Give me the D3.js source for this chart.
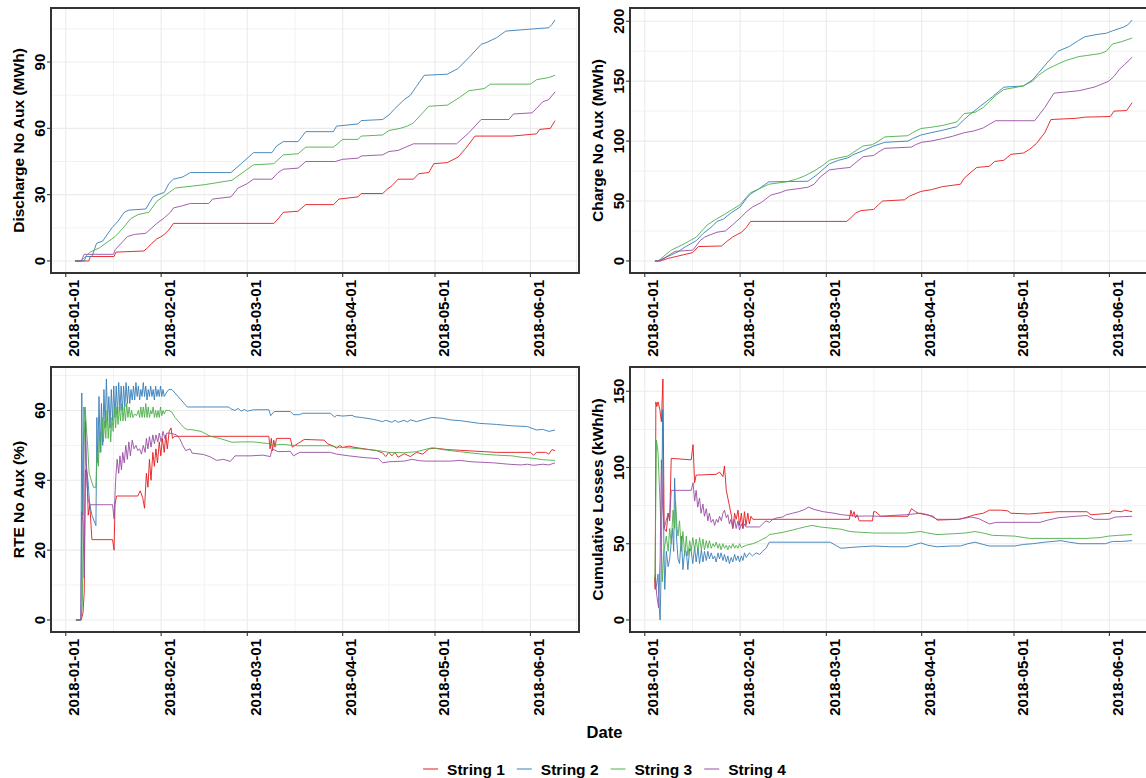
<!DOCTYPE html>
<html>
<head>
<meta charset="utf-8">
<script src="https://cdn.jsdelivr.net/npm/d3@7"></script>
<style>
body { margin: 0; background: #fff; }
text { font-family: "Liberation Sans", Arial, sans-serif; font-weight: bold; fill: #000; }
</style>
</head>
<body>
<svg id="chart" width="1146" height="778"></svg>
<script>
// values: [day since 2018-01-01, value]
var dischargeS1 = [[3,0],[7.5,0],[8,2],[15.7,2],[16.3,4],[25.4,4.5],[26.6,6],[28,8],[29.6,10],[31,11],[32,12],[33.5,14],[35,17],[67.6,17],[69,19],[70.7,22],[75.5,22.5],[78,25.5],[87,25.5],[88.8,28],[95,29],[96,30.5],[103,30.5],[104.5,32.5],[106,34],[108,37],[113,37],[114.7,39.5],[118,40],[119.6,44],[124,44.5],[127.5,47],[130,51],[133,56.5],[145,56.5],[153,57.5],[154,59.5],[157.5,60],[159,63.5]];
var dischargeS2 = [[3,0],[6,0],[6.6,2],[8.5,2],[10,8],[12,9],[15,15],[17,18],[19,22],[20.5,23],[26,23.5],[28.4,29],[30,30],[32,31],[33.5,35],[35,37],[38,38],[40.5,40],[53.7,40],[57,44],[61,49],[67,49],[68.5,52],[70.7,54],[75.5,54],[78,58.5],[87,58.5],[88,61],[95,62],[96,63.5],[103,64],[105,66],[107,69],[110,73],[112,75],[114,79],[116.5,84],[124,84.5],[127.4,87],[131,92],[135,98],[137,99],[140,101],[143,104],[152,105],[157,105.5],[158,107],[159,109]];
var dischargeS3 = [[3,0],[5,0],[7.9,4],[11,6],[14,9],[16,11],[18.7,15],[21,19],[23.5,21],[27,22],[29.6,27],[32.6,30],[35.6,33],[45,34.5],[54,36.5],[58.5,41],[61,43.5],[67.6,44],[70.7,48],[75.5,48.5],[78,51.5],[87,51.5],[90,55],[95,55],[96,56.5],[103,57],[105,59],[108.7,60],[111,61],[113,62.5],[116,67],[118,70],[124,70.5],[128,74],[131,77],[136,78],[138,80],[151,80],[153,82],[157,83],[159,84]];
var dischargeS4 = [[3,0],[5,0],[6,3],[15.5,3],[16,5],[18.7,9],[20,11],[22.3,12],[26,12.5],[28,15],[29.6,17],[32,19.5],[34,22],[35,24],[38,25],[40.5,26],[46.5,26],[47.7,28],[53.7,29],[56,33],[59,35],[61,37],[67,37],[69,40],[70.7,41.5],[75.5,42],[78,45],[87.6,45],[90,46],[95,46.5],[96,47.5],[103,48],[105,49.5],[108,50],[113,53],[127,53],[131,58],[135,64],[144,64],[145.5,66.5],[151.5,67],[153,69],[155,72],[157,73],[159,76.5]];

var chargeS1 = [[3.3,0],[5,0],[7.4,2],[15.6,7],[17.4,12],[25,12.5],[26.5,16],[28.6,20],[30,22],[31.5,24],[33,28],[34.4,33],[65.6,33],[67,36],[68.5,40],[70.3,42],[74.4,43],[76,47],[77.3,50],[84.4,51],[86,54],[89.7,58],[93.2,59.5],[96.7,62],[102.6,64],[103.8,69],[106,74],[107.9,78],[112,79],[113.7,83],[116.7,84],[119,89],[123,90],[125,93],[127.3,98],[130,107],[132,118],[140.2,119],[143,120],[151.3,120.5],[152.5,125],[156.6,125.5],[158.4,132]];
var chargeS2 = [[3.3,0],[4,0],[5,1],[8.6,5],[11,8],[13.3,12],[16.8,17],[19,23],[21.5,28],[23.5,33],[25.6,35],[28,40],[31,45],[33,52],[34.4,56],[37,60],[40.3,66],[53,66.5],[56,72],[60,81],[63,84],[66,86],[68,89],[71,92],[74,95.5],[78,99],[85.5,100],[87,102],[89.7,105],[93,107],[96.7,109],[101.4,112],[103.8,118],[106,123],[108.5,128],[111,133],[113,137],[116.7,145],[123,146],[126,151],[128,157],[131,166],[134.3,175],[138,179],[141,184],[143,187],[147,189],[150,190],[152,192],[155.5,195],[157,197],[158.4,201]];
var chargeS3 = [[3.3,0],[4.5,0],[6.2,4],[8.6,9],[11,12],[13.3,15],[16.8,20],[18.5,25],[20.3,30],[23.3,35],[26,39],[28.5,43],[31,47],[33,53],[34.4,57],[37,60],[40.3,64],[46,66],[49,68],[52,71],[55,75],[58,80],[60,84],[63,86],[66,87.5],[68,91],[71,96],[74,97],[76,100],[78,103.5],[85.5,104.5],[87,107],[89.7,110.5],[93,111.5],[96.7,113],[101.4,116],[103.8,123],[107.3,124],[110,128],[112,133],[114,138],[116.7,143],[123,146],[126,150],[128,155],[130.8,160],[134,164],[136.6,167],[141,170.5],[144,171.5],[148,173],[150,175],[152,181],[155,183],[158.4,186]];
var chargeS4 = [[3.3,0],[5,0],[7.4,4],[9.8,8],[15.6,9],[18,17],[19.5,20],[21.5,22],[23.5,24],[26.2,25],[28.5,30],[31.5,37],[33,41],[35,45],[38,49],[41,55],[44,57],[46,59],[49,60],[53,61.5],[55,64],[57,70],[60,76],[63,77],[66.7,78],[69,83],[71,87],[74.4,88],[76,91],[78,94],[86.7,95],[88,97],[90,99],[93,100],[96.7,102],[100,104],[103.8,107],[107,108.5],[110,111],[112,114],[114,117],[126.7,117],[130,128],[133,140],[141,142],[146,145],[148,147],[150.8,150],[152.5,154],[154.3,160],[156,164],[158.4,170]];

var rteS1 = [[3.3,0],[5,0],[5.6,2],[6,8],[6.4,43],[6.9,42],[7.3,30],[7.8,33],[8.5,23],[15.2,23],[15.7,20],[16,33],[16.5,35.5],[23.4,35.5],[24.2,37],[25,35],[25.6,32],[26.2,42],[26.7,38],[27.2,46],[27.7,40],[28.3,48],[28.8,44],[29.3,49],[29.8,45],[30.4,51],[30.9,47],[31.4,52],[32,48],[32.5,53],[33,49],[33.6,54],[34.2,55],[34.7,52],[35.3,52.6],[66,52.6],[66.4,49],[66.8,52],[67.2,48.5],[67.6,51.5],[68,49.5],[68.5,52],[73,52],[73.6,49.5],[74.5,50],[77.5,51.7],[84,51.5],[85,50.5],[87,49.8],[88,49.2],[89,50],[90,49.4],[92,49.8],[94,49.4],[101,48.5],[103,47.8],[104,46.8],[105,48],[106,47],[107,48],[108,46.6],[110,47.6],[112,46.8],[114,48],[116,47.5],[118,49],[120,49.2],[124,48.8],[128,48.6],[132,48.4],[136,48.2],[140,48],[151,48],[152,47.2],[153,48],[156,48],[157,47.5],[158,48.8],[159,48.5]];
var rteS2 = [[3.3,0],[4.9,0],[5.2,65],[5.5,30],[5.9,61],[6.3,58],[6.6,45],[7.2,40],[7.8,33],[8.5,30],[9.8,27],[10.1,58],[10.4,45],[10.8,64],[11.2,48],[11.6,62],[12,50],[12.4,66],[12.8,55],[13.2,69],[13.6,57],[14,64],[14.4,55],[14.8,66],[15.2,57],[15.6,67],[16,58],[16.4,67],[16.8,59],[17.2,68],[17.6,60],[18,67],[18.4,60],[18.8,67],[19.2,61],[19.6,68],[20,62],[20.4,67],[20.8,62],[21.2,66],[21.6,63],[22,67],[22.4,63],[22.8,68],[23.2,64],[23.6,67],[24,63],[24.4,66],[24.8,64],[25.2,68],[25.6,64],[26,67],[26.4,63],[26.8,66],[27.2,64],[27.6,67],[28,64],[28.4,66],[28.8,63],[29.2,67],[29.6,64],[30,66],[30.4,64],[30.8,67],[31.2,64],[31.6,66],[32,64],[32.6,65],[33.5,66],[34.5,66],[35.5,65],[36.5,64],[37.5,63],[38.5,62],[39.5,61],[41,61],[53,61],[53.5,60.5],[55,60],[56,60.6],[57,59.8],[58,60.3],[59,59.8],[61,60.2],[66,60.2],[66.6,58.5],[67.5,59.5],[68,59.7],[73,59.7],[74,58.8],[76,58.8],[77,59.2],[86,59.2],[87.4,58.1],[88,58.6],[90,58.4],[93,58.6],[94,58.2],[96,58],[99.7,57.5],[103,56.8],[104,57.2],[106,56.6],[107,57.2],[108,56.6],[110,57.2],[111,56.7],[112,57.3],[114,56.8],[116,57.3],[119,58],[122,57.8],[125,57.3],[128,57.1],[134.5,56.3],[140,56],[145,55.6],[150,55.4],[153,54.4],[155,54.6],[157,54],[159,54.4]];
var rteS3 = [[3.3,0],[5,0],[5.4,5],[5.8,45],[6.3,61],[6.7,55],[7.1,50],[7.6,42],[8.3,40],[9,38],[9.8,38],[10.2,48],[10.6,44],[11,54],[11.4,48],[11.8,58],[12.2,51],[12.6,57],[13,52],[13.4,60],[13.8,52],[14.2,59],[14.6,51],[15,58],[15.4,54],[15.8,61],[16.2,55],[16.6,61],[17,56],[17.4,61],[17.8,57],[18.2,62],[18.6,57],[19,61],[19.4,57],[19.8,62],[20.2,58],[20.6,61],[21,58],[21.4,60],[21.8,58],[22.4,59],[23,58.5],[23.6,60],[24,58],[24.4,61],[24.8,58],[25.2,61],[25.6,58],[26,62],[26.4,58],[26.8,61],[27.2,58],[27.6,60],[28,59],[28.4,61],[28.8,58],[29.2,60],[29.6,58],[30,60],[30.4,58],[30.8,61],[31.2,58.5],[31.6,60],[32,59],[32.5,60],[33.5,60],[34.5,59.5],[35.5,58],[36.5,57],[37.5,56],[38.5,55],[39.5,54.5],[41,54.5],[44,54],[47,52.6],[50,52],[54,50.9],[57,51],[61,51],[66,50.5],[67,50],[70,50.3],[75.4,49.9],[86,49.9],[88,49.5],[92,49.3],[96,49],[101.6,48.5],[105,48],[110,47.9],[114,48.2],[119,49.3],[124,48.6],[128,48.2],[132,47.8],[136.7,47.4],[140,47.2],[145,47],[148,46.6],[152,46.3],[155,45.9],[159,45.7]];
var rteS4 = [[3.3,0],[4.9,0],[5.2,31],[5.6,28],[6,12],[6.4,57],[6.8,40],[7.3,34],[8,33],[15.2,33],[15.7,29],[16.2,40],[16.7,46],[17.2,42],[17.6,47],[18.1,43],[18.5,48],[19,45],[19.5,50],[20,46],[20.5,51],[21,47],[21.6,51.5],[22.2,49],[22.8,50],[23.4,48.5],[24,49],[24.6,47.5],[25.2,50],[25.8,48],[26.2,52],[26.7,49],[27.2,52.5],[27.7,49.5],[28.3,53],[28.8,50.5],[29.3,53],[29.9,51],[30.4,53.5],[31,51],[31.6,54],[32.2,52],[32.8,53.5],[34,53.5],[36,53],[37,52],[38,50],[39,48.5],[40.4,49],[41,47.8],[44.7,47.4],[47,46.7],[49,45.7],[51.3,46],[53.5,45.4],[55,47],[60,47],[64,47.2],[66.5,46.8],[67,49],[69,48.2],[73,48.3],[74,47],[76,48],[86,48],[88,47.5],[92,47],[97,46.5],[101.6,46.2],[103,45],[105,45.3],[110,45.5],[112.5,46],[115,45.6],[117,45.5],[125,45.5],[128,45.7],[132,45.3],[139,45],[144,44.6],[148,44.4],[150,44.6],[152,44.3],[155,44.6],[157,44.4],[159,45]];

var lossS1 = [[3.2,28],[3.4,20],[3.6,143],[3.9,140],[4.3,143],[4.9,138],[5.4,130],[5.9,158],[6.3,60],[7,58],[7.6,70],[8.1,65],[8.6,106],[15.1,105],[15.7,115],[16.2,90],[16.7,95],[23.2,95.5],[24.3,97],[25.4,94],[25.9,101],[26.5,85],[27.5,75],[28.2,68],[28.6,60],[29.2,70],[29.7,66],[30.3,72],[30.8,62],[31.4,70],[31.9,60],[32.4,71],[32.9,62],[33.5,70],[34,63],[34.5,68],[35.1,66],[66.5,66],[67,72],[67.5,68],[68,71],[68.5,67],[69,69],[69.7,65],[74,65],[74.4,71],[75,71],[76.7,68],[85.5,68],[86.7,73],[88,71],[89,70],[93.8,68],[95,65.5],[102,66],[104,67],[107.3,69],[110,70],[112,72],[116,72],[118,71.5],[119,70],[125,69.5],[128,70],[134.3,71],[143.7,71],[145,69],[151.4,70],[151.8,71.5],[155,71],[156,72],[158.4,71]];
var lossS2 = [[3.2,22],[3.8,22],[4.3,30],[4.7,8],[5,0],[5.4,40],[5.8,138],[6.2,50],[6.5,20],[7,45],[7.6,35],[8.1,40],[9,60],[9.4,45],[9.7,93],[10.3,55],[10.8,40],[11.3,37],[11.9,55],[12.4,33],[13,46],[13.5,45],[14,33],[14.6,47],[15.1,45],[15.6,37],[16.2,48],[16.7,38],[17.3,47],[17.8,37],[18.4,46],[18.9,38],[19.4,45],[20,39],[20.5,45],[21,40],[21.6,44],[22.2,40],[22.7,42],[23.2,38],[23.8,44],[24.3,40],[24.8,44],[25.4,39],[25.9,43],[26.5,38],[27,42],[27.5,37],[28.1,41],[28.6,38],[29.2,43],[29.7,39],[30.3,42],[30.8,38],[31.4,42],[31.9,39],[32.4,44],[33,41],[34,44],[35,42],[36.2,44],[37.3,43],[38.3,45],[39.4,47],[40.5,51],[60.3,51],[62,49],[63.8,47],[66.7,47.5],[70,48],[74.4,48.5],[80,48],[85,48],[87,49],[89.7,50.5],[92,49],[95,48],[100,48.5],[102.6,48.5],[105,50],[107.3,51],[110,49.5],[112,48.5],[120.2,48.5],[123,49.5],[126,50],[130,51],[135.3,52],[138,51],[141.4,50],[149.7,50],[152,51.5],[155,51.5],[158.4,52]];
var lossS3 = [[3.3,25],[3.8,118],[4.3,110],[4.9,80],[5.3,60],[5.7,25],[6.2,45],[7,55],[7.6,45],[8.1,60],[8.6,50],[9.2,72],[9.7,60],[10,78],[10.5,60],[10.8,55],[11.3,65],[11.9,45],[12.4,58],[13,42],[13.5,55],[14,42],[14.6,52],[15.1,45],[15.6,54],[16.2,46],[16.7,53],[17.3,45],[17.8,54],[18.4,46],[18.9,53],[19.4,46],[20,52],[20.5,47],[21,52],[21.6,47],[22.2,50],[22.7,48],[23.2,51],[23.8,47],[24.3,50],[24.8,46],[25.4,50],[25.9,47],[26.5,49],[27,46],[27.5,49],[28.1,47],[28.6,50],[29.2,47],[29.7,49],[30.3,47],[30.8,50],[31.4,47.5],[31.9,48],[33,49],[35.1,50],[37,51.5],[38.3,53],[39.4,54],[40.5,56],[42,56.5],[45,57.5],[48,59],[50,60],[52,61],[54.4,62],[57,61],[61.5,60],[63.8,59.5],[66.7,58],[70,57.5],[74.4,57],[80,57],[85,57],[89.7,58],[92,57],[95,56],[100,56.5],[104,57],[107.3,58],[110,57],[113,55.5],[120.2,55],[125,53.5],[143.7,53.5],[148,54],[150.8,55],[154,55.5],[158.4,56]];
var lossS4 = [[3.4,30],[3.9,16],[4.5,8],[5,40],[5.4,105],[5.8,75],[6.3,60],[6.8,64],[7.6,70],[8.1,66],[8.6,85],[15.1,85],[15.7,90],[16.2,78],[16.7,85],[17.2,74],[17.8,80],[18.3,70],[18.9,76],[19.4,68],[20,73],[20.5,65],[21,70],[21.6,64],[22.2,66],[22.7,62],[23.3,66],[23.8,64],[24.3,68],[24.9,65],[25.4,70],[25.9,72],[26.5,67],[27,69],[27.5,63],[28,66],[28.6,60],[29.2,66],[29.7,60],[30.3,65],[30.8,59],[31.4,63],[31.9,60],[32.4,63],[32.9,61],[34,61],[37.3,61],[38.3,63],[39.4,65],[40.5,64],[41.6,66],[43,67],[44.8,67.5],[46,69],[48,70],[50,71],[52,72.5],[53.2,74],[55,72.5],[58,71],[61.5,70],[64,69],[66.7,68.5],[68.5,68],[72,68.2],[76.7,68],[80,68.5],[85,69],[89.7,70],[92,69],[95,66],[102,66],[106,67.5],[108.5,66.5],[110,65],[112,63],[114.3,64],[128.4,64],[131,65.5],[134.3,67],[140,68],[143.7,68.5],[146,66],[150.8,66],[153,67.5],[156,67.8],[158.4,68]];

var seriesNames = ["String 1", "String 2", "String 3", "String 4"];
var seriesColors = ["#E41A1C", "#377EB8", "#4DAF4A", "#984EA3"];
var dateTicks = ["2018-01-01", "2018-02-01", "2018-03-01", "2018-04-01", "2018-05-01", "2018-06-01"];
var dischargeTicks = [0, 30, 60, 90];
var chargeTicks = [0, 50, 100, 150, 200];
var rteTicks = [0, 20, 40, 60];
var lossTicks = [0, 50, 100, 150];

var W = 1146, H = 778;
var svg = d3.select("#chart");
var day0 = Date.UTC(2018, 0, 1);
function toDate(d) { return new Date(day0 + d * 864e5); }
var parseDate = d3.utcParse("%Y-%m-%d");

var panelW = 528, panelH = 265;
var panels = [
    {left: 51, top: 8, title: "Discharge No Aux (MWh)", series: [dischargeS1, dischargeS2, dischargeS3, dischargeS4], ticks: dischargeTicks},
    {left: 630, top: 8, title: "Charge No Aux (MWh)", series: [chargeS1, chargeS2, chargeS3, chargeS4], ticks: chargeTicks},
    {left: 51, top: 367, title: "RTE No Aux (%)", series: [rteS1, rteS2, rteS3, rteS4], ticks: rteTicks},
    {left: 630, top: 367, title: "Cumulative Losses (kWh/h)", series: [lossS1, lossS2, lossS3, lossS4], ticks: lossTicks}
];

// shared x range over all panels, ggplot style 5% expansion
var allDays = [];
panels.forEach(function(p) { p.series.forEach(function(s) { s.forEach(function(d) { allDays.push(d[0]); }); }); });
var dMin = d3.min(allDays), dMax = d3.max(allDays), dPad = (dMax - dMin) * 0.05;
var xDomain = [toDate(dMin - dPad), toDate(dMax + dPad)];
var tickDates = dateTicks.map(parseDate);
var minorDates = [];
for (var i = 0; i < tickDates.length; i++) {
    var next = i < tickDates.length - 1 ? tickDates[i + 1] : d3.utcMonth.offset(tickDates[i], 1);
    minorDates.push(new Date((tickDates[i].getTime() + next.getTime()) / 2));
}

panels.forEach(function(p, pi) {
    var x = d3.scaleUtc().domain(xDomain).range([p.left, p.left + panelW]);
    var vals = [];
    p.series.forEach(function(s) { s.forEach(function(d) { vals.push(d[1]); }); });
    var vMin = d3.min(vals), vMax = d3.max(vals), vPad = (vMax - vMin) * 0.05;
    var y = d3.scaleLinear().domain([vMin - vPad, vMax + vPad]).range([p.top + panelH, p.top]);

    var g = svg.append("g").attr("class", "panel");
    var clipId = "clip" + pi;
    g.append("clipPath").attr("id", clipId).append("rect")
        .attr("x", p.left).attr("y", p.top).attr("width", panelW).attr("height", panelH);

    var grid = g.append("g").attr("clip-path", "url(#" + clipId + ")");
    // minor grid
    var step = p.ticks[1] - p.ticks[0];
    var yMinor = [];
    for (var v = p.ticks[0] - step / 2; v <= y.domain()[1]; v += step) {
        if (v >= y.domain()[0]) yMinor.push(v);
    }
    grid.selectAll(".ymin").data(yMinor).enter().append("line")
        .attr("x1", p.left).attr("x2", p.left + panelW)
        .attr("y1", function(d) { return y(d); }).attr("y2", function(d) { return y(d); })
        .attr("stroke", "#F2F2F2").attr("stroke-width", 1);
    grid.selectAll(".xmin").data(minorDates).enter().append("line")
        .attr("x1", function(d) { return x(d); }).attr("x2", function(d) { return x(d); })
        .attr("y1", p.top).attr("y2", p.top + panelH)
        .attr("stroke", "#F2F2F2").attr("stroke-width", 1);
    // major grid
    grid.selectAll(".ymaj").data(p.ticks).enter().append("line")
        .attr("x1", p.left).attr("x2", p.left + panelW)
        .attr("y1", function(d) { return y(d); }).attr("y2", function(d) { return y(d); })
        .attr("stroke", "#EBEBEB").attr("stroke-width", 1.1);
    grid.selectAll(".xmaj").data(tickDates).enter().append("line")
        .attr("x1", function(d) { return x(d); }).attr("x2", function(d) { return x(d); })
        .attr("y1", p.top).attr("y2", p.top + panelH)
        .attr("stroke", "#EBEBEB").attr("stroke-width", 1.1);

    var line = d3.line()
        .x(function(d) { return x(toDate(d[0])); })
        .y(function(d) { return y(d[1]); });
    var lines = g.append("g").attr("clip-path", "url(#" + clipId + ")");
    p.series.forEach(function(s, si) {
        lines.append("path").datum(s)
            .attr("d", line)
            .attr("fill", "none")
            .attr("stroke", seriesColors[si])
            .attr("stroke-width", 1)
            .attr("stroke-opacity", 0.9)
            .attr("stroke-linejoin", "round");
    });

    // border
    g.append("rect").attr("x", p.left).attr("y", p.top)
        .attr("width", panelW).attr("height", panelH)
        .attr("fill", "none").attr("stroke", "#333").attr("stroke-width", 2);

    // y axis ticks and labels (rotated like the reference)
    g.selectAll(".ytick").data(p.ticks).enter().append("line")
        .attr("x1", p.left - 4).attr("x2", p.left)
        .attr("y1", function(d) { return y(d); }).attr("y2", function(d) { return y(d); })
        .attr("stroke", "#333").attr("stroke-width", 1.1);
    g.selectAll(".ylab").data(p.ticks).enter().append("text")
        .attr("transform", function(d) { return "translate(" + (p.left - 6) + "," + y(d) + ") rotate(-90)"; })
        .attr("text-anchor", "middle")
        .style("font-size", "15px")
        .text(function(d) { return d; });

    // x axis ticks and labels
    var bottom = p.top + panelH;
    g.selectAll(".xtick").data(tickDates).enter().append("line")
        .attr("x1", function(d) { return x(d); }).attr("x2", function(d) { return x(d); })
        .attr("y1", bottom).attr("y2", bottom + 4)
        .attr("stroke", "#333").attr("stroke-width", 1.1);
    g.selectAll(".xlab").data(tickDates).enter().append("text")
        .attr("transform", function(d) { return "translate(" + (x(d) + 13.5) + "," + (bottom + 7) + ") rotate(-90)"; })
        .attr("text-anchor", "end")
        .style("font-size", "15px")
        .text(function(d) { return d3.utcFormat("%Y-%m-%d")(d); });

    // y title
    g.append("text")
        .attr("transform", "translate(" + (p.left - 27) + "," + (p.top + panelH / 2) + ") rotate(-90)")
        .attr("text-anchor", "middle")
        .style("font-size", "15.5px")
        .text(p.title);
});

// x title
var centerX = (51 + 630 + panelW) / 2;
svg.append("text").attr("x", centerX).attr("y", 738)
    .attr("text-anchor", "middle").style("font-size", "16.5px").text("Date");

// legend
var legend = svg.append("g");
var items = [];
var cursor = 0;
seriesNames.forEach(function(name, i) {
    var item = legend.append("g");
    item.append("line").attr("x1", 0).attr("x2", 15).attr("y1", 0).attr("y2", 0)
        .attr("stroke", seriesColors[i]).attr("stroke-width", 1.1).attr("stroke-opacity", 0.9);
    var t = item.append("text").attr("x", 24).attr("y", 5.5).style("font-size", "15.5px").text(name);
    var w = 24 + t.node().getComputedTextLength();
    item.attr("transform", "translate(" + cursor + ",0)");
    cursor += w + 12;
});
var legendW = cursor - 12;
legend.attr("transform", "translate(" + (centerX - legendW / 2) + ",769)");
</script>
</body>
</html>
